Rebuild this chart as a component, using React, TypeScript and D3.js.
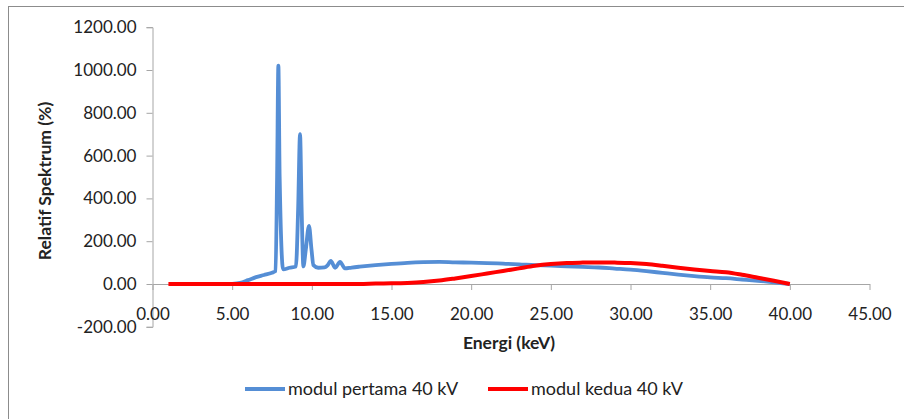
import React, { useEffect, useRef } from "react";
import * as d3 from "d3";

// energy (keV) / relative spectrum (%)
const bluePoints: [number, number][] = [
  [5.0, 0], [5.5, 5], [6.0, 18], [6.5, 32], [7.0, 42], [7.5, 53], [7.72, 60],
  [7.82, 500], [7.9, 1020], [7.98, 500], [8.2, 68], [8.6, 76], [9.0, 82],
  [9.14, 350], [9.26, 700], [9.36, 350], [9.47, 82], [9.62, 160], [9.82, 272],
  [9.98, 160], [10.1, 88], [10.4, 76], [10.8, 78], [11.0, 88], [11.19, 108],
  [11.46, 76], [11.77, 103], [12.08, 73], [12.5, 77], [13, 81], [14, 88],
  [15, 94], [16, 99], [17, 102], [18, 103], [19, 101], [20, 100], [21, 98],
  [22, 95], [23, 92], [24, 88], [25, 86], [26, 83], [27, 80], [28, 77],
  [29, 72], [30, 67], [31, 60], [32, 52], [33, 44], [34, 37], [35, 31],
  [36, 27], [37, 21], [38, 15], [39, 8], [40, 0]
];

const redPoints: [number, number][] = [
  [1, 0], [5, 0], [10, 0], [13, 0], [14, 2], [15, 3], [16, 5], [17, 9],
  [18, 16], [19, 26], [20, 37], [21, 49], [22, 61], [23, 73], [24, 85],
  [25, 93], [26, 98], [27, 100], [28, 101], [29, 100], [30, 98], [31, 93],
  [32, 85], [33, 76], [34, 68], [35, 61], [36, 55], [37, 43], [38, 29],
  [39, 15], [40, 0]
];

const xTicks = [0, 5, 10, 15, 20, 25, 30, 35, 40, 45];
const yTicks = [-200, 0, 200, 400, 600, 800, 1000, 1200];
const seriesNames = ["modul pertama 40 kV", "modul kedua 40 kV"];
const seriesColors = ["#558ED5", "#FF0000"];

export default function App() {
  const ref = useRef<SVGSVGElement>(null);

  useEffect(() => {
    const svg = d3.select(ref.current).html(null);
    const font = "Lato, 'Open Sans', sans-serif";
    const axisColor = "#a6a6a6";
    const textColor = "#222";
    const fmt = (d: any) => (+d).toFixed(2); // keeps a plain hyphen for negatives

    const x = d3.scaleLinear().domain([0, 45]).range([152.5, 869.5]);
    const y = d3.scaleLinear().domain([-200, 1200]).range([326.8, 27.2]);

    // outer chart border
    svg
      .append("rect")
      .attr("x", 8.5)
      .attr("y", 6.5)
      .attr("width", 920)
      .attr("height", 440)
      .attr("fill", "none")
      .attr("stroke", "#8c8c8c");

    // y axis
    const yAxis = svg
      .append("g")
      .attr("transform", `translate(${x(0)},0)`)
      .call(d3.axisLeft(y).tickValues(yTicks).tickSize(6).tickPadding(10).tickFormat(fmt));
    yAxis.select(".domain").attr("stroke", axisColor);
    yAxis.selectAll("line").attr("stroke", axisColor);
    yAxis
      .selectAll("text")
      .attr("fill", textColor)
      .style("font-family", font)
      .style("font-size", "17px");

    // x axis on the zero line
    const xAxis = svg
      .append("g")
      .attr("transform", `translate(0,${y(0)})`)
      .call(
        d3
          .axisBottom(x)
          .tickValues(xTicks)
          .tickSize(6)
          .tickSizeOuter(0)
          .tickPadding(18)
          .tickFormat(fmt)
      );
    xAxis.select(".domain").attr("stroke", axisColor);
    xAxis.selectAll("line").attr("stroke", axisColor);
    xAxis
      .selectAll("text")
      .attr("fill", textColor)
      .style("font-family", font)
      .style("font-size", "17px");

    // axis titles
    svg
      .append("text")
      .attr("transform", `translate(51,181) rotate(-90)`)
      .attr("text-anchor", "middle")
      .attr("fill", textColor)
      .style("font-family", font)
      .style("font-weight", "bold")
      .style("font-size", "17.5px")
      .text("Relatif Spektrum (%)");

    svg
      .append("text")
      .attr("x", 509)
      .attr("y", 349)
      .attr("text-anchor", "middle")
      .attr("fill", textColor)
      .style("font-family", font)
      .style("font-weight", "bold")
      .style("font-size", "17.5px")
      .text("Energi (keV)");

    const line = d3
      .line<[number, number]>()
      .x((d) => x(d[0]))
      .y((d) => y(d[1]))
      .curve(d3.curveMonotoneX);

    svg
      .append("path")
      .datum(bluePoints)
      .attr("fill", "none")
      .attr("stroke", seriesColors[0])
      .attr("stroke-width", 3.8)
      .attr("stroke-linejoin", "round")
      .attr("d", line);

    svg
      .append("path")
      .datum(redPoints)
      .attr("fill", "none")
      .attr("stroke", seriesColors[1])
      .attr("stroke-width", 4)
      .attr("stroke-linejoin", "round")
      .attr("d", line);

    // legend
    const legendX = [245, 488];
    const legend = svg
      .append("g")
      .selectAll("g")
      .data(seriesNames)
      .enter()
      .append("g")
      .attr("transform", (d, i) => `translate(${legendX[i]},389)`);

    legend
      .append("line")
      .attr("x1", 0)
      .attr("x2", 40)
      .attr("stroke", (d, i) => seriesColors[i])
      .attr("stroke-width", 4);

    legend
      .append("text")
      .attr("x", 43)
      .attr("dy", "0.35em")
      .attr("fill", textColor)
      .style("font-family", font)
      .style("font-size", "18px")
      .text((d) => d);
  });

  return (
    <svg
      ref={ref}
      width={904}
      height={419}
      style={{ position: "absolute", left: 0, top: 0, background: "#fff" }}
    ></svg>
  );
}
